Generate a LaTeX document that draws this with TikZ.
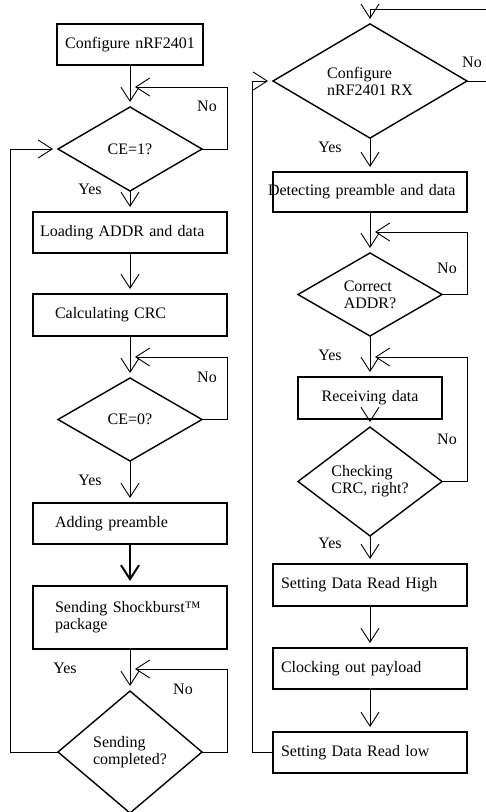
\documentclass[tikz,border=0pt]{standalone}
\usepackage{fontspec}
\setmainfont{Liberation Serif}
\usetikzlibrary{shapes.geometric,arrows.meta}

\begin{document}
\begin{tikzpicture}[x=1pt,y=-1pt,
  every node/.style={font=\fontsize{16}{17}\selectfont, outer sep=0pt},
  box/.style={draw, line width=1.1pt, minimum height=41pt, inner xsep=8pt, text width=178pt, align=left},
  boxin/.style={box, inner xsep=22pt, text width=150pt},
  bold/.style={line width=2pt},
  decision/.style={draw, diamond, line width=1.4pt, inner sep=0pt, minimum width=144pt, minimum height=84pt, align=left},
  flow/.style={-{Straight Barb[length=14pt,width=18pt]}, line width=0.9pt, shorten >=5pt}]
\useasboundingbox (0,0) rectangle (486,812);
% transmit side
\node[box, bold, text width=130pt, align=center] (cfg) at (130,44.5) {Configure nRF2401};
\node[decision] (ce1) at (130,149) {CE=1?};
\node[box, inner xsep=7pt, text width=180pt] (load) at (130,232.5) {Loading ADDR and data};
\node[boxin, bold, minimum height=42pt] (crc) at (130,315) {Calculating CRC};
\node[decision, minimum height=83pt] (ce0) at (130,419.5) {CE=0?};
\node[boxin, bold] (pre) at (130,523.5) {Adding preamble};
\node[boxin, bold, minimum height=63pt] (send) at (130,617.5) {Sending Shockburst™\\package};
\node[decision, minimum height=122pt] (done) at (130,752) {Sending\\completed?};
% receive side
\node[decision, minimum width=194pt, minimum height=95pt] (rx) at (370,81) {Configure\\nRF2401 RX};
\node[box, inner xsep=0pt, text width=194pt, minimum height=40pt] (det) at (370,192) {\hspace*{-5pt}Detecting preamble and data};
\node[decision, minimum height=83pt] (addr) at (370,294.5) {Correct\\ADDR?};
\node[box, text width=128pt, align=center, minimum height=42pt] (recv) at (370,398) {Receiving data};
\node[decision, minimum height=83pt] (chk) at (370,481.5) {Checking\\CRC, right?};
\node[box, minimum height=42pt] (high) at (370,585) {Setting Data Read High};
\node[box] (clk) at (370,668.5) {Clocking out payload};
\node[box] (low) at (370,752.5) {Setting Data Read low};

\coordinate (n1) at (130,87);
\coordinate (r1) at (227,87);
\coordinate (n2) at (130,357);
\coordinate (r2) at (227,357);
\coordinate (n3) at (130,669);
\coordinate (r3) at (227,669);
\coordinate (l1) at (10,149);
\coordinate (n4) at (370,9);
\coordinate (r4) at (488,9);
\coordinate (l2) at (252,81);
\coordinate (n5) at (370,232);
\coordinate (r5) at (467,232);
\coordinate (n6) at (370,357);
\coordinate (r6) at (467,357);

\draw[flow] (cfg.south) -- (ce1.north);
\draw[flow] (ce1.south) -- (load.north);
\draw[flow] (load.south) -- (crc.north);
\draw[flow] (crc.south) -- (ce0.north);
\draw[flow] (ce0.south) -- (pre.north);
\draw[flow, bold] (pre.south) -- (send.north);
\draw[flow] (send.south) -- (done.north);
\draw[flow] (ce1.east) -| (r1) -- (n1);
\draw[flow] (ce0.east) -| (r2) -- (n2);
\draw[flow] (done.east) -| (r3) -- (n3);
\draw[flow] (done.west) -| (l1) -- (ce1.west);

\draw[flow] (rx.south) -- (det.north);
\draw[flow] (det.south) -- (addr.north);
\draw[flow] (addr.south) -- (recv.north);
\draw[flow] (recv.south) -- (chk.north);
\draw[flow] (chk.south) -- (high.north);
\draw[flow] (high.south) -- (clk.north);
\draw[flow] (clk.south) -- (low.north);
\draw[flow] (rx.east) -| (r4) -- (n4) -- (rx.north);
\draw[flow] (low.west) -| (l2) -- (rx.west);
\draw[flow] (addr.east) -| (r5) -- (n5);
\draw[flow] (chk.east) -| (r6) -- (n6);

\node (no1) at (207,106) {No};
\node (yes1) at (90,189) {Yes};
\node (no2) at (207,377) {No};
\node (yes2) at (90,480) {Yes};
\node (yes3) at (65,668) {Yes};
\node (no3) at (183,689) {No};
\node (no4) at (472,62) {No};
\node (yes4) at (330,147) {Yes};
\node (no5) at (447,268) {No};
\node (yes5) at (330,355) {Yes};
\node (no6) at (447,439) {No};
\node (yes6) at (330,543) {Yes};
\end{tikzpicture}
\end{document}
